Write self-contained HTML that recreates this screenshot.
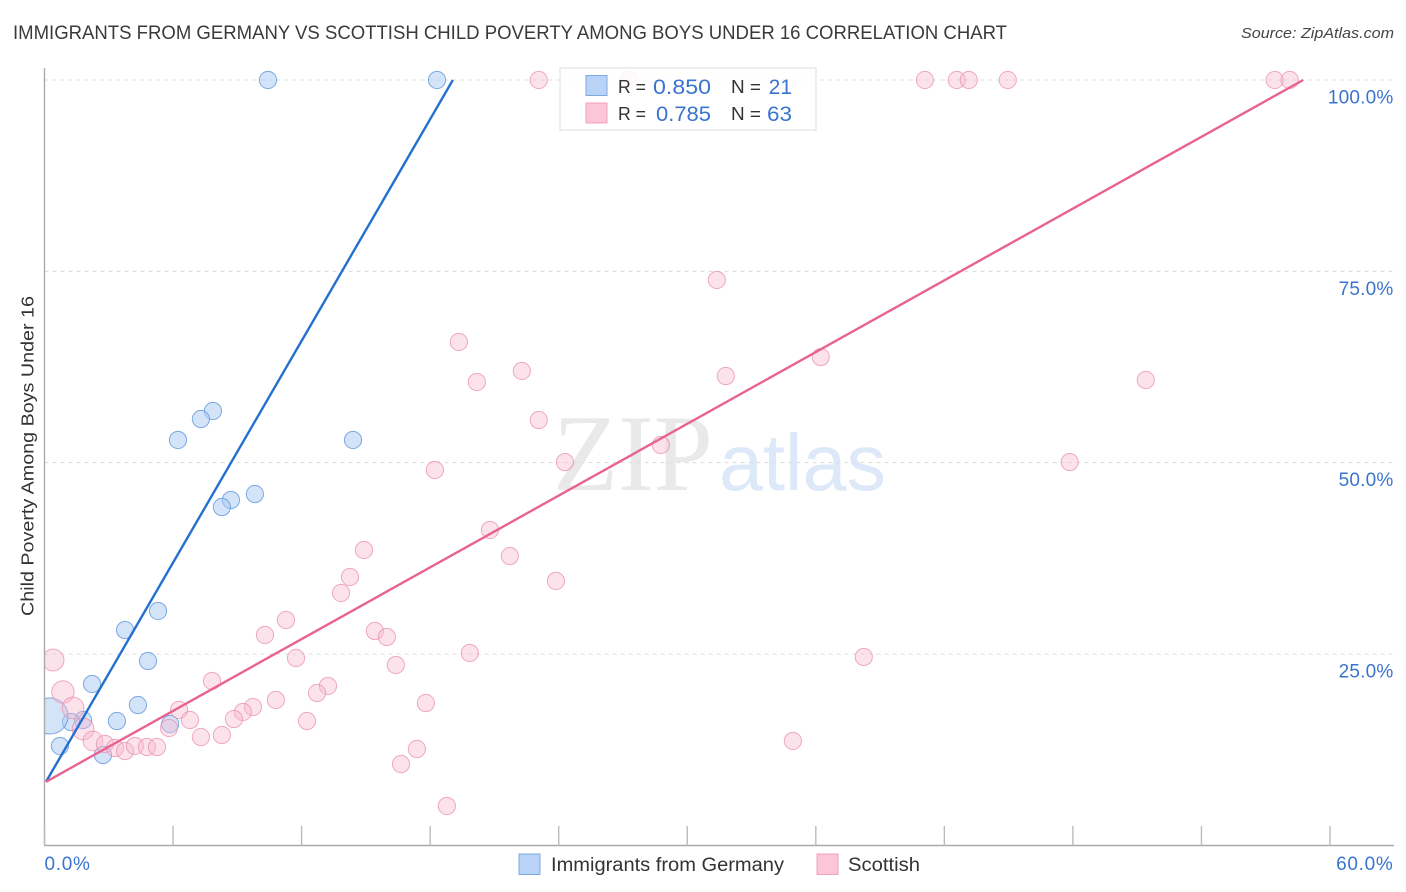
<!DOCTYPE html>
<html>
<head>
<meta charset="utf-8">
<title>Immigrants from Germany vs Scottish Child Poverty Correlation Chart</title>
<style>
html,body{margin:0;padding:0;background:#fff;}
svg{display:block;font-family:"Liberation Sans",sans-serif;}
</style>
</head>
<body>
<svg id="chart" xmlns="http://www.w3.org/2000/svg" width="1406" height="892" viewBox="0 0 1406 892">
  <defs><clipPath id="plot-clip"><rect x="44.5" y="60" width="1350" height="786"/></clipPath></defs>
  <text x="13" y="39" font-size="19.5" fill="#3a3a3a" textLength="994" lengthAdjust="spacingAndGlyphs">IMMIGRANTS FROM GERMANY VS SCOTTISH CHILD POVERTY AMONG BOYS UNDER 16 CORRELATION CHART</text>
  <text x="1241" y="38" font-size="15" font-style="italic" fill="#444" textLength="153" lengthAdjust="spacingAndGlyphs">Source: ZipAtlas.com</text>
  <g>
    <text x="553" y="490" font-family="'Liberation Serif',serif" font-size="109" fill="#e9e9e9" textLength="160" lengthAdjust="spacingAndGlyphs">ZIP</text>
    <text x="719" y="490" font-size="80" fill="#dde9f8" textLength="167" lengthAdjust="spacingAndGlyphs">atlas</text>
  </g>
  <g id="grid"></g>
  <g id="series-blue" clip-path="url(#plot-clip)"></g>
  <g id="series-pink" clip-path="url(#plot-clip)"></g>
  <g id="axes"></g>
  <g id="trends"></g>
  <text transform="translate(33.5,456) rotate(-90)" font-size="17.5" fill="#333" text-anchor="middle" textLength="320" lengthAdjust="spacingAndGlyphs">Child Poverty Among Boys Under 16</text>
  <g>
    <rect x="560" y="68" width="256" height="62" fill="#fff" fill-opacity="0.86" stroke="#e2e2e2" stroke-width="1.2"/>
    <rect x="586" y="75.5" width="21" height="20" fill="#b9d3f6" stroke="#7ea8e0" stroke-width="1"/>
    <rect x="586" y="103" width="21" height="20" fill="#fcc5d8" stroke="#f0a0bc" stroke-width="1"/>
    <text x="618" y="93" font-size="18" fill="#333" textLength="28" lengthAdjust="spacingAndGlyphs">R =</text>
    <text x="653" y="94" font-size="21" fill="#3a74cf" textLength="58" lengthAdjust="spacingAndGlyphs">0.850</text>
    <text x="731" y="93" font-size="18" fill="#333" textLength="30" lengthAdjust="spacingAndGlyphs">N =</text>
    <text x="792" y="94" font-size="21" fill="#3a74cf" text-anchor="end">21</text>
    <text x="618" y="120" font-size="18" fill="#333" textLength="28" lengthAdjust="spacingAndGlyphs">R =</text>
    <text x="656" y="121" font-size="21" fill="#3a74cf" textLength="55" lengthAdjust="spacingAndGlyphs">0.785</text>
    <text x="731" y="120" font-size="18" fill="#333" textLength="30" lengthAdjust="spacingAndGlyphs">N =</text>
    <text x="767" y="121" font-size="21" fill="#3a74cf" textLength="25" lengthAdjust="spacingAndGlyphs">63</text>
  </g>
  <g>
    <rect x="519" y="854" width="21" height="20.5" fill="#b9d3f6" stroke="#7ea8e0" stroke-width="1"/>
    <text x="551" y="871" font-size="19" fill="#333" textLength="233" lengthAdjust="spacingAndGlyphs">Immigrants from Germany</text>
    <rect x="817" y="854" width="21" height="20.5" fill="#fcc5d8" stroke="#f0a0bc" stroke-width="1"/>
    <text x="848" y="871" font-size="19" fill="#333" textLength="72" lengthAdjust="spacingAndGlyphs">Scottish</text>
  </g>
</svg>
<script>
const germanyX = [10.43,18.32,7.86,7.30,6.23,14.40,9.82,8.70,8.28,5.30,3.76,4.83,2.22,4.36,3.38,1.80,1.24,0.26,0.72,2.73,5.86];
const germanyY = [100,100,56.75,55.70,52.96,52.96,45.90,45.12,44.20,30.62,28.13,24.08,21.08,18.33,16.24,16.37,16.11,16.90,12.98,11.80,15.85];
const germanyWeight = [1,1,1,1,1,1,1,1,1,1,1,1,1,1,1,1,1,4.4,1,1,1];
const scottishX = [23.07,27.27,41.09,42.58,43.14,44.96,57.42,58.12,31.38,19.34,36.23,22.28,31.80,20.18,51.40,23.07,18.22,47.85,24.29,28.77,20.79,14.91,21.72,14.26,23.87,13.84,11.27,15.42,10.29,15.98,11.74,19.85,38.24,16.40,0.40,7.82,13.23,12.72,0.86,10.80,17.80,1.33,9.73,9.26,8.84,6.28,6.79,12.25,1.80,5.81,8.28,7.30,2.26,2.82,3.29,3.76,4.22,4.78,5.25,34.93,17.38,16.64,18.78];
const scottishY = [100,100,100,100,100,100,100,100,73.87,65.77,63.80,61.98,61.32,60.54,60.80,55.57,49.04,50.08,50.08,52.31,41.20,38.59,37.80,35.06,34.54,32.97,29.44,28.00,27.48,27.22,24.47,25.13,24.61,23.56,24.21,21.47,20.82,19.90,20.03,18.99,18.59,17.94,18.07,17.42,16.50,17.68,16.37,16.24,15.20,15.33,14.41,14.15,13.63,13.24,12.71,12.32,12.98,12.84,12.84,13.63,12.58,10.62,5.14];
const scottishWeight = [1,1,1,1,1,1,1,1,1,1,1,1,1,1,1,1,1,1,1,1,1,1,1,1,1,1,1,1,1,1,1,1,1,1,1.6,1,1,1,1.7,1,1,1.6,1,1,1,1,1,1,1.6,1,1,1,1.3,1,1,1,1,1,1,1,1,1,1];
const germanyTrendX = [0.07,19.06];
const germanyTrendY = [8.3,100];
const scottishTrendX = [0.07,58.75];
const scottishTrendY = [8.3,100];
const yTicks = [25,50,75,100];
const yTickLabels = ['25.0%','50.0%','75.0%','100.0%'];
const xTicks = [0,6,12,18,24,30,36,42,48,54,60];
const xEndTicks = [0,60];
const xEndLabels = ['0.0%','60.0%'];

const NS = 'http://www.w3.org/2000/svg';
function xScale(v){ return 44.5 + v * (1330 - 44.5) / 60; }
function yScale(v){ return 845.3 - v * 7.653; }
function make(tag, parent, attrs){
  const el = document.createElementNS(NS, tag);
  for (const k in attrs) el.setAttribute(k, attrs[k]);
  parent.appendChild(el);
  return el;
}

const grid = document.getElementById('grid');
yTicks.forEach(function(t){
  const l = make('line', grid, {x1:44.5, x2:1394, y1:yScale(t), y2:yScale(t), stroke:'#dcdcdc', 'stroke-width':1, 'stroke-dasharray':'4 4'});
  
  
});

const axes = document.getElementById('axes');
const yAxis = make('line', axes, {x1:44.5, x2:44.5, y1:68, y2:845.5, stroke:'#aaa', 'stroke-width':1.4});


const xAxis = make('line', axes, {x1:44, x2:1394, y1:845.5, y2:845.5, stroke:'#aaa', 'stroke-width':1.4});


xTicks.forEach(function(t){
  const l = make('line', axes, {x1:xScale(t), x2:xScale(t), y1:826, y2:845.5, stroke:'#bbb', 'stroke-width':1.4});
  
  
});
yTicks.forEach(function(t, i){
  const lab = make('text', axes, {x:1393.5, y:yScale(t) + 23.5, 'font-size':19, fill:'#3a74cf', 'text-anchor':'end', 'letter-spacing':0.2});
  lab.textContent = yTickLabels[i];
  
  
});
xEndTicks.forEach(function(t, i){
  const lab = make('text', axes, {x:i === 0 ? xScale(t) : 1393.5, y:870, 'font-size':19, fill:'#3a74cf', 'text-anchor':i === 0 ? 'start' : 'end', 'letter-spacing':0.7});
  lab.textContent = xEndLabels[i];
  
  
});

const blueGroup = document.getElementById('series-blue');
germanyX.forEach(function(v, i){
  const c = make('circle', blueGroup, {cx:xScale(v), cy:yScale(germanyY[i]), r:8.6 * Math.sqrt(germanyWeight[i]), fill:'#a9c9f2', 'fill-opacity':0.5, stroke:'#5f96dc', 'stroke-opacity':0.8, 'stroke-width':1});
  
  
});
const pinkGroup = document.getElementById('series-pink');
scottishX.forEach(function(v, i){
  const c = make('circle', pinkGroup, {cx:xScale(v), cy:yScale(scottishY[i]), r:8.6 * Math.sqrt(scottishWeight[i]), fill:'#f9b9cf', 'fill-opacity':0.42, stroke:'#ea8fae', 'stroke-opacity':0.75, 'stroke-width':1});
  
  
});

const trends = document.getElementById('trends');
const blueLine = make('line', trends, {x1:xScale(germanyTrendX[0]), y1:yScale(germanyTrendY[0]), x2:xScale(germanyTrendX[1]), y2:yScale(germanyTrendY[1]), stroke:'#2470d0', 'stroke-width':2.4});


const pinkLine = make('line', trends, {x1:xScale(scottishTrendX[0]), y1:yScale(scottishTrendY[0]), x2:xScale(scottishTrendX[1]), y2:yScale(scottishTrendY[1]), stroke:'#e8638f', 'stroke-width':2.4});


</script>
</body>
</html>
